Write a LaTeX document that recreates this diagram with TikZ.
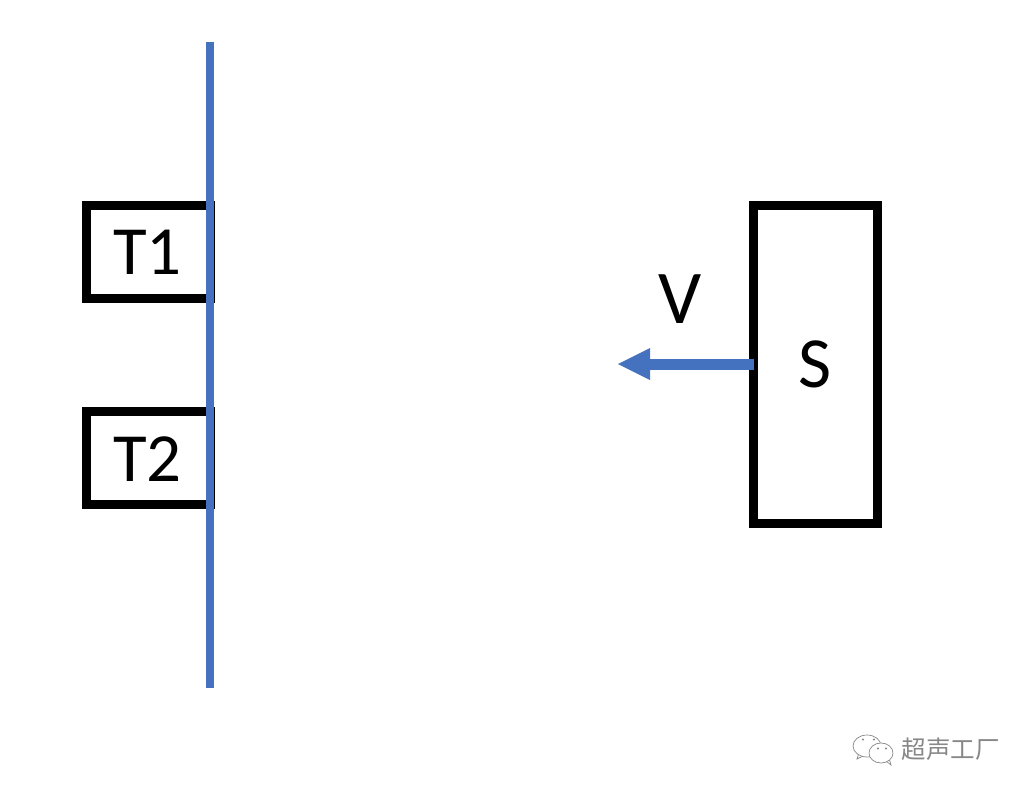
\documentclass[tikz,border=0pt]{standalone}
\usepackage{fontspec}
\setmainfont{Carlito}
\newfontfamily\cjkfont{Noto Sans CJK SC}
\definecolor{barblue}{RGB}{68,114,190}
\definecolor{markgrey}{RGB}{135,135,135}
\tikzset{
  box/.style={draw=black,line width=9pt,fill=white,rectangle,inner sep=0pt},
  lab/.style={inner sep=0pt,text=black},
  bubble/.style={draw=markgrey,line width=0.7pt,fill=white}
}
\begin{document}
\begin{tikzpicture}[x=1pt,y=-1pt]
\useasboundingbox (0,0) rectangle (1034,795);
\fill[white] (0,0) rectangle (1034,795);
% boxes
\node[box,minimum width=124pt,minimum height=92.5pt] (t1box) at (148.5,251.75) {};
\node[box,minimum width=124pt,minimum height=92.5pt] (t2box) at (148.5,457.75) {};
\node[box,minimum width=124pt,minimum height=318pt] (sbox) at (815.5,364.5) {};
% wall
\coordinate (walltop) at (210,42);
\coordinate (wallbot) at (210,688);
\draw[barblue,line width=8pt] (walltop) -- (wallbot);
% labels
\node[lab,font=\fontsize{69}{69}\selectfont] (t1) at (147.5,252) {T1};
\node[lab,font=\fontsize{69}{69}\selectfont] (t2) at (147.5,459) {T2};
\node[lab,font=\fontsize{76}{76}\selectfont] (v) at (680,299) {V};
\node[lab,font=\fontsize{72}{72}\selectfont] (s) at (815.5,364) {S};
% velocity arrow
\coordinate (vtip) at (618,364);
\coordinate (vbase) at (650,364);
\coordinate (vstart) at ([xshift=5pt,yshift=0.5pt]sbox.west);
\draw[barblue,line width=11pt] (vstart) -- (vbase);
\fill[barblue] (vtip) -- (650,348) -- (650,380) -- cycle;
% watermark
\draw[bubble] (859,753) -- (857,759) -- (865,755);
\draw[bubble] (867,746) ellipse (14pt and 11pt);
\draw[bubble] (886,761) -- (891,765) -- (889,758);
\draw[bubble] (881,753) ellipse (12pt and 10pt);
\fill[markgrey] (863,739.5) circle (1.2pt) (874,739.5) circle (1.2pt)
                (878,748.5) circle (1.2pt) (886,748.5) circle (1.2pt);
\node[lab,text=markgrey,font=\cjkfont\fontsize{24.5}{24.5}\selectfont] (mark) at (950.5,749.5) {超声工厂};
\end{tikzpicture}
\end{document}
